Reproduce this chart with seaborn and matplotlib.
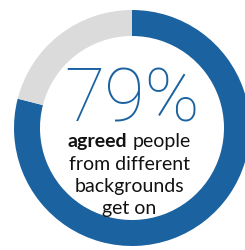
import matplotlib
matplotlib.use('Agg')
import matplotlib.pyplot as plt
import seaborn as sns

sns.set_theme(style='white')
plt.rcParams['font.family'] = ['Lato', 'DejaVu Sans']

# data
segments = ['agreed', 'rest']
shares = [79, 21]
seg_colors = ['#1b62a0', '#dbdbdb']
caption_bold = 'agreed'
caption_lines = ['people', 'from different', 'backgrounds', 'get on']

W, H = 245, 251
fig = plt.figure(figsize=(W / 100, H / 100), dpi=100)
ax = fig.add_axes([0, 0, 1, 1])

cx, cy, R = 132, H - 129, 118
ax.pie(shares, colors=seg_colors, startangle=90, counterclock=False,
       center=(cx, cy), radius=R,
       wedgeprops=dict(width=26, linewidth=0))
ax.set_xlim(0, W)
ax.set_ylim(0, H)
ax.set_axis_off()

# big percentage
ax.text(cx, H - 122, f'{shares[0]}%', ha='center', va='baseline',
        fontsize=53, fontweight='light', family=['Roboto', 'DejaVu Sans'],
        color=seg_colors[0])

# caption; first line mixes bold and regular
fs = 14
tx = 129
fig.canvas.draw()
rend = fig.canvas.get_renderer()
t1 = ax.text(0, H - 147, caption_bold, fontsize=fs, fontweight='bold',
             color='#111111', va='baseline')
t2 = ax.text(0, H - 147, caption_lines[0], fontsize=fs, color='#111111',
             va='baseline')
w1 = t1.get_window_extent(rend).width
w2 = t2.get_window_extent(rend).width
gap = 5
x0 = tx - (w1 + gap + w2) / 2
t1.set_x(x0)
t2.set_x(x0 + w1 + gap)

for i, line in enumerate(caption_lines[1:]):
    ax.text(tx, H - 147 - 22.5 * (i + 1), line, ha='center', va='baseline',
            fontsize=fs, color='#111111')

fig.savefig('out.png', dpi=100)
